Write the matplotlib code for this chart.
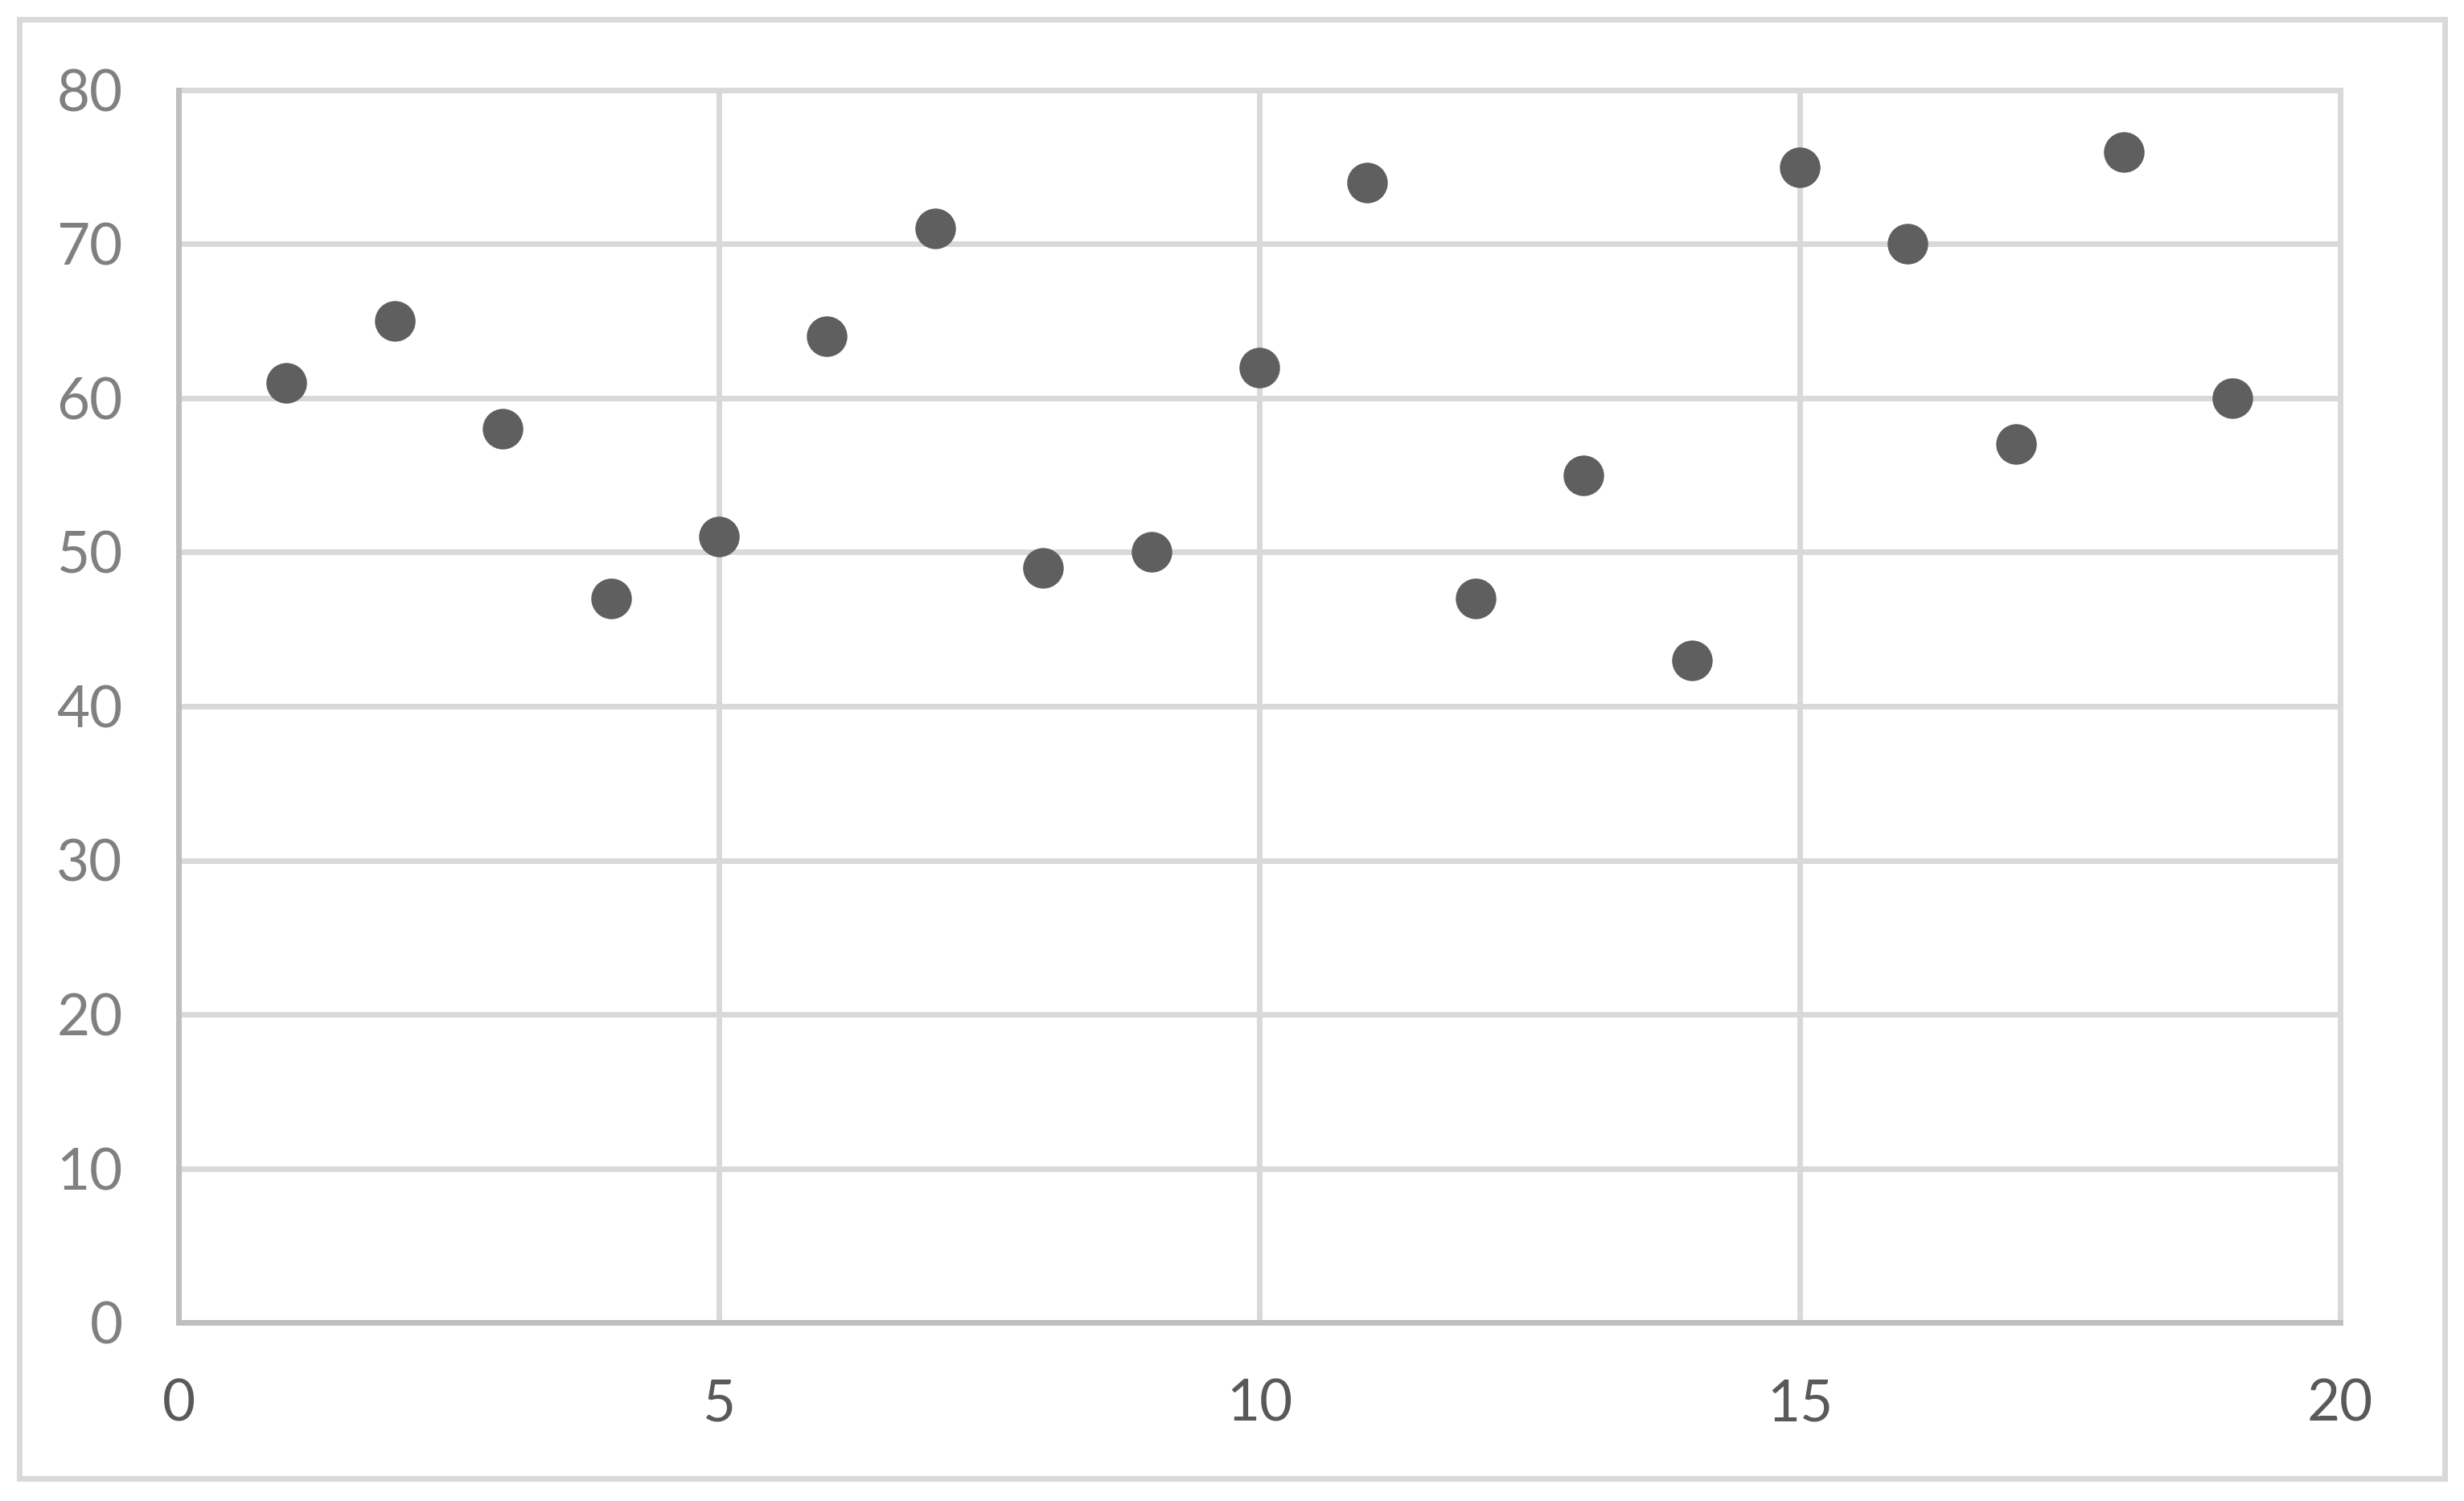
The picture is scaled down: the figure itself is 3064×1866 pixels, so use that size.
import matplotlib
matplotlib.use("Agg")
import matplotlib.pyplot as plt
from matplotlib.patches import Rectangle

x_values = [1, 2, 3, 4, 5, 6, 7, 8, 9, 10, 11, 12, 13, 14, 15, 16, 17, 18, 19]
y_values = [61, 65, 58, 47, 51, 64, 71, 49, 50, 62, 74, 47, 55, 43, 75, 70, 57, 76, 60]
x_ticks = [0, 5, 10, 15, 20]
y_ticks = [0, 10, 20, 30, 40, 50, 60, 70, 80]

W, H, DPI = 3064, 1866, 200
fig = plt.figure(figsize=(W / DPI, H / DPI), dpi=DPI)
plt.rcParams['font.family'] = ['Lato', 'DejaVu Sans']

# axes position in pixels
left, right, top, bottom = 222, 2910, 112, 1644
ax = fig.add_axes([left / W, 1 - bottom / H, (right - left) / W, (bottom - top) / H])

lw = 7 * 72 / DPI
ax.set_xlim(0, 20)
ax.set_ylim(0, 80)
ax.set_xticks(x_ticks)
ax.set_yticks(y_ticks)
ax.grid(True, color='#D9D9D9', linewidth=lw, zorder=0)
ax.set_axisbelow(True)
for s in ['top', 'right']:
    ax.spines[s].set_color('#D9D9D9')
    ax.spines[s].set_linewidth(lw)
for s in ['left', 'bottom']:
    ax.spines[s].set_color('#BFBFBF')
    ax.spines[s].set_linewidth(lw)
    ax.spines[s].set_zorder(3)

ax.tick_params(axis='both', length=0, labelsize=25.5)
ax.tick_params(axis='y', colors='#808080', pad=25)
ax.tick_params(axis='x', colors='#595959', pad=25)

ax.scatter(x_values, y_values, s=330, color='#5F5F5F', zorder=4, linewidths=0, clip_on=False)

# outer chart border
fig.patches.append(Rectangle((23.5 / W, 1 - 1838 / H), (3040 - 23.5) / W, (1838 - 24) / H,
                             transform=fig.transFigure, fill=False, edgecolor='#D9D9D9',
                             linewidth=lw, zorder=0))

fig.savefig('out.png', dpi=DPI, facecolor='white')
